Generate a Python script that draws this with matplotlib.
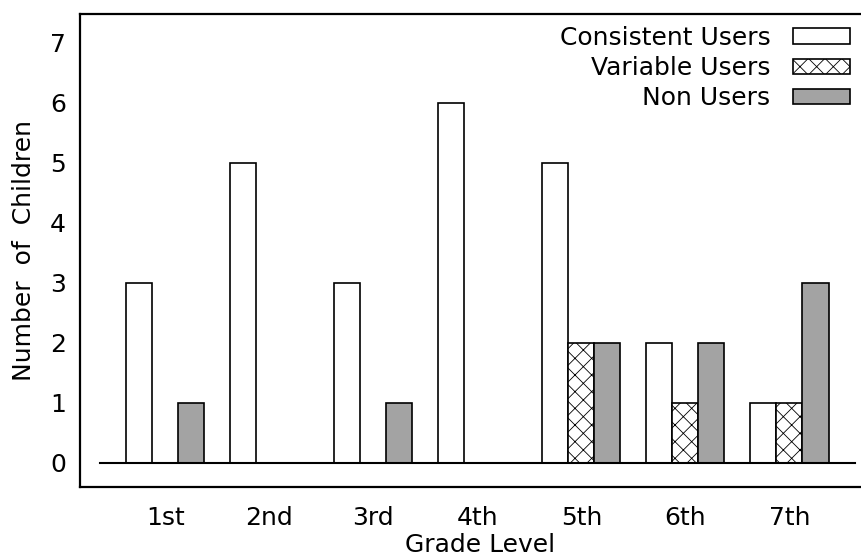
import matplotlib
matplotlib.use('Agg')

import matplotlib.pyplot as plt
import numpy as np
from matplotlib.patches import Patch

# ------------------ DATA ------------------

grades = ['1st', '2nd', '3rd', '4th', '5th', '6th', '7th']
consistent_users = [3, 5, 3, 6, 5, 2, 1]
variable_users = [0, 0, 0, 0, 2, 1, 1]
non_users = [1, 0, 1, 0, 2, 2, 3]

series_names = ['Consistent Users', 'Variable Users', 'Non Users']


# ------------------ PLOT ------------------

plt.rcParams['font.family'] = 'DejaVu Sans'
plt.rcParams['hatch.linewidth'] = 0.6
plt.rcParams['hatch.color'] = '#333333'

fig = plt.figure(figsize=(8.62, 5.57), dpi=100)
ax = fig.add_axes([80 / 862, 70 / 557, 800 / 862, 473 / 557])

x = np.arange(len(grades))
w = 0.25

styles = [
    dict(facecolor='white', hatch=None),
    dict(facecolor='white', hatch='xx'),
    dict(facecolor='#a3a3a3', hatch=None),
]
data = [consistent_users, variable_users, non_users]

for k, (vals, st) in enumerate(zip(data, styles)):
    ax.bar(x + (k - 1) * w, vals, width=w, edgecolor='black',
           linewidth=1.2, zorder=2, **st)

# zero line
ax.plot([x[0] - 2.5 * w, x[-1] + 2.5 * w], [0, 0], color='black', lw=1.5, zorder=3)

ax.set_xlim(-0.82, 6.87)
ax.set_ylim(-0.4, 7.48)

ax.set_yticks(range(8))
ax.set_xticks(x)
ax.set_xticklabels(grades)
ax.tick_params(length=0, labelsize=18, pad=10)
ax.tick_params(axis='x', pad=14)

for s in ['left', 'top', 'bottom']:
    ax.spines[s].set_linewidth(1.6)
ax.spines['right'].set_visible(False)

ax.set_xlabel('Grade Level', fontsize=18, labelpad=2)
ax.set_ylabel('Number  of  Children', fontsize=18, labelpad=10)

handles = [Patch(edgecolor='black', linewidth=1.2, **st) for st in styles]
leg = ax.legend(handles, series_names, loc='upper right', frameon=False,
                fontsize=18, markerfirst=False, handlelength=2.3,
                handleheight=0.55, labelspacing=0.25, handletextpad=0.9,
                bbox_to_anchor=(0.985, 1.012), borderaxespad=0.3)
for t in leg.get_texts():
    t.set_ha('right')

plt.savefig('out.png', dpi=100)
plt.close()
